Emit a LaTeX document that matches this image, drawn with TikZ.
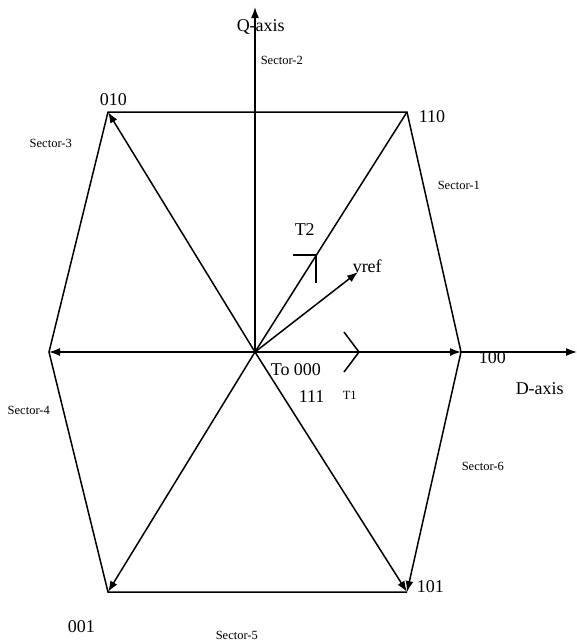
\documentclass[tikz,border=0pt]{standalone}
\usepackage{fontspec}
\setmainfont{Liberation Serif}
\usetikzlibrary{arrows.meta}

\begin{document}
\begin{tikzpicture}[x=1pt,y=-1pt,line width=1.5pt,
  vec/.style={-{Latex[length=11pt,width=8pt]}},
  lbl/.style={font=\fontsize{18}{18}\selectfont,inner sep=0pt,anchor=base west},
  sect/.style={font=\fontsize{12.5}{12.5}\selectfont,inner sep=0pt,anchor=base west}]
\useasboundingbox (0,0) rectangle (577,641);
% hexagon corners
\coordinate (O) at (255,352);
\coordinate (v100) at (461,352);
\coordinate (v110) at (407,112);
\coordinate (v010) at (108,112);
\coordinate (v011) at (49,352);
\coordinate (v001) at (108,592);
\coordinate (v101) at (407,592);
\coordinate (dend) at (577,352);
\coordinate (qend) at (255,7);
\coordinate (vref) at (358,272);
% hexagon
\draw (v100) -- (v110) -- (v010) -- (v011) -- (v001) -- (v101);
\draw[vec] (v100) -- (v101);
% space vectors
\draw[vec] (O) -- (v010);
\draw[vec] (O) -- (v011);
\draw[vec] (O) -- (v001);
\draw[vec] (O) -- (v101);
\draw[vec] (O) -- (v100);
\draw (O) -- (v110);
\draw[vec] (O) -- (vref);
% axes
\draw[vec] (v100) -- (dend);
\draw[vec] (O) -- (qend);
% T1 and T2 marks
\coordinate (t2) at (316,255);
\draw (293,255) -- (t2) -- (316,283);
\coordinate (t1) at (359,352);
\draw (344,332) -- (t1) -- (344,372);
% labels
\node[lbl] (qlab) at (236,31) {Q-axis};
\node[lbl] (dlab) at (515,394) {D-axis};
\node[lbl] (l010) at (99,105) {010};
\node[lbl] (l110) at (418,122) {110};
\node[lbl] (l100) at (478,363) {100};
\node[lbl] (l001) at (67,632) {001};
\node[lbl] (l101) at (416,592) {101};
\node[lbl] (l000) at (270,375) {To 000};
\node[lbl] (l111) at (298,402) {111};
\node[lbl] (lvref) at (352,272) {vref};
\node[lbl] (lt2) at (294,235) {T2};
\node[sect] (lt1) at (342,399) {T1};
\node[sect] (s1) at (437,189) {Sector-1};
\node[sect] (s2) at (260,64) {Sector-2};
\node[sect] (s3) at (29,147) {Sector-3};
\node[sect] (s4) at (7,414) {Sector-4};
\node[sect] (s5) at (215,639) {Sector-5};
\node[sect] (s6) at (461,470) {Sector-6};
\end{tikzpicture}
\end{document}
